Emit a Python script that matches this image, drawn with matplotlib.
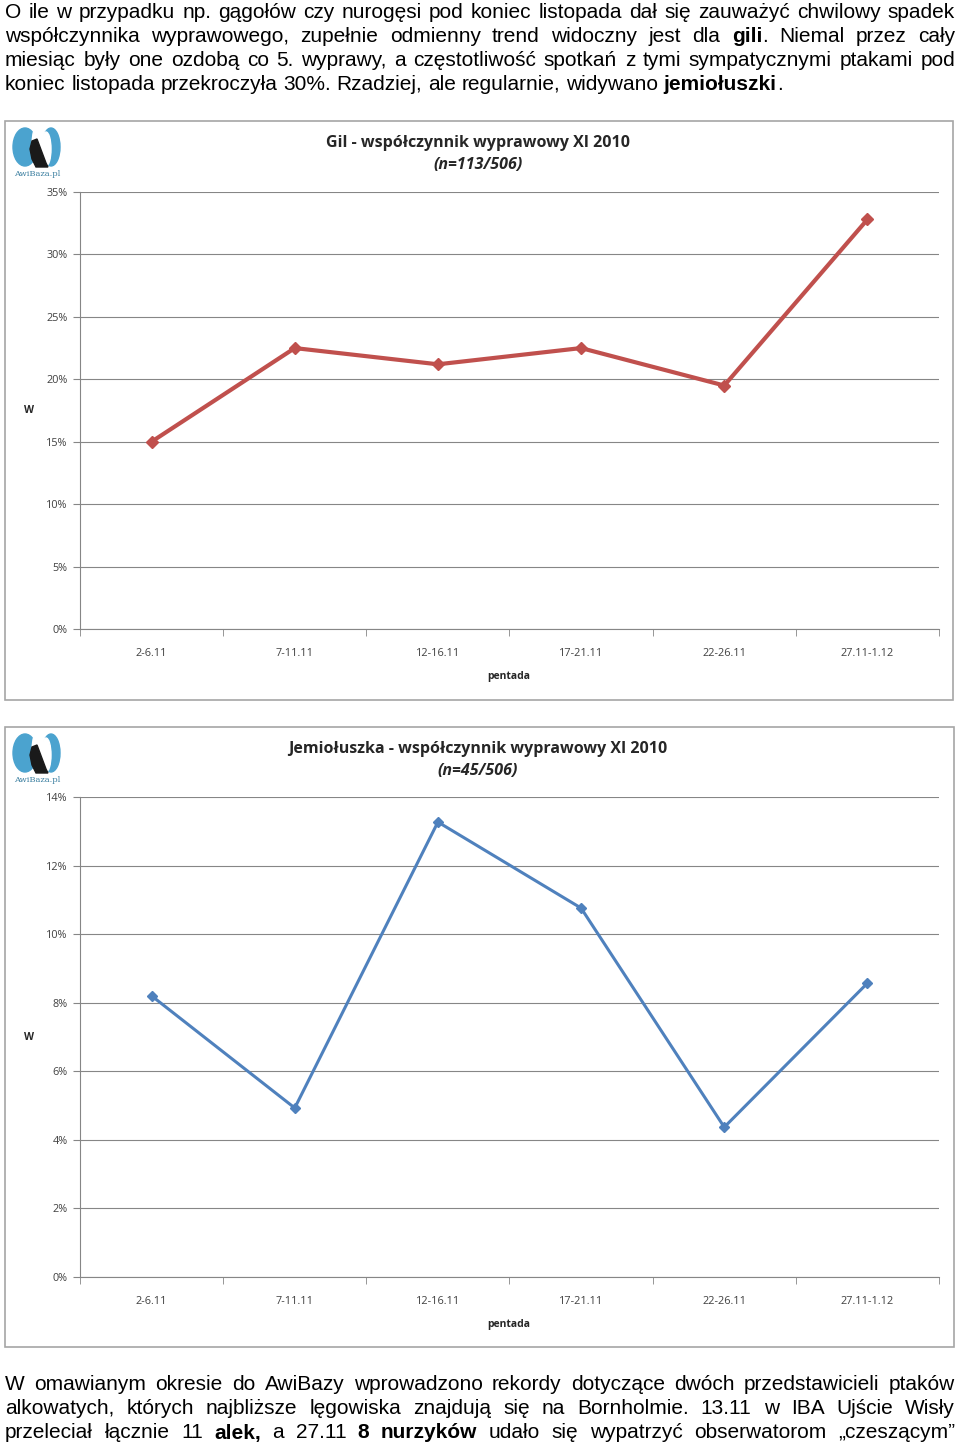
import matplotlib
matplotlib.use('Agg')
import matplotlib.pyplot as plt
from matplotlib.patches import Rectangle, Ellipse, Polygon

# dane
pentady = ['2-6.11', '7-11.11', '12-16.11', '17-21.11', '22-26.11', '27.11-1.12']
gil = [15.0, 22.5, 21.2, 22.5, 19.5, 32.8]
jemioluszka = [8.2, 4.93, 13.27, 10.76, 4.37, 8.57]

tekst_gora = [
    "O ile w przypadku np. gągołów czy nurogęsi pod koniec listopada dał się zauważyć chwilowy spadek",
    "współczynnika wyprawowego, zupełnie odmienny trend widoczny jest dla **gili**. Niemal przez cały",
    "miesiąc były one ozdobą co 5. wyprawy, a częstotliwość spotkań z tymi sympatycznymi ptakami pod",
    "koniec listopada przekroczyła 30%. Rzadziej, ale regularnie, widywano **jemiołuszki**.",
]
tekst_dol = [
    "W omawianym okresie do AwiBazy wprowadzono rekordy dotyczące dwóch przedstawicieli ptaków",
    "alkowatych, których najbliższe lęgowiska znajdują się na Bornholmie. 13.11 w IBA Ujście Wisły",
    "przeleciał łącznie 11 **alek,** a 27.11 **8 nurzyków** udało się wypatrzyć obserwatorom „czeszącym”",
]

W, H = 960, 1447
fig = plt.figure(figsize=(W / 100, H / 100), dpi=100)
renderer = fig.canvas.get_renderer()
BODY = ['Liberation Sans Narrow', 'Liberation Sans', 'DejaVu Sans']
FS = 15.0


def fx(x):
    return x / W


def fy(y):
    return 1 - y / H


def akapit(linie, y0, dy, justuj_ostatnia=False):
    bold = False
    for i, linia in enumerate(linie):
        slowa = []
        for w in linia.split(' '):
            segs = []
            for j, part in enumerate(w.split('**')):
                if j > 0:
                    bold = not bold
                if part:
                    segs.append((part, bold))
            slowa.append(segs)
        # pomiar szerokosci slow
        szer = []
        tmp = []
        for segs in slowa:
            ws = []
            for txt, b in segs:
                t = fig.text(0, 0, txt, fontsize=FS, family=BODY,
                             fontweight='bold' if b else 'normal')
                ws.append(t.get_window_extent(renderer).width)
                tmp.append(t)
            szer.append(ws)
        for t in tmp:
            t.remove()
        spacja = fig.text(0, 0, 'a a', fontsize=FS, family=BODY)
        sa = fig.text(0, 0, 'aa', fontsize=FS, family=BODY)
        sp = spacja.get_window_extent(renderer).width - sa.get_window_extent(renderer).width
        spacja.remove()
        sa.remove()
        total = sum(sum(ws) for ws in szer)
        ostatnia = (i == len(linie) - 1) and not justuj_ostatnia
        gap = sp if ostatnia else (950 - total) / (len(slowa) - 1)
        x = 5
        y = y0 + i * dy
        for segs, ws in zip(slowa, szer):
            for (txt, b), wd in zip(segs, ws):
                fig.text(fx(x), fy(y), txt, fontsize=FS, family=BODY,
                         fontweight='bold' if b else 'normal', va='center', ha='left')
                x += wd
            x += gap


akapit(tekst_gora, 12, 24)
akapit(tekst_dol, 1385, 24, justuj_ostatnia=True)


def logo(x0, y0):
    ax = fig.add_axes([fx(x0), fy(y0 + 54), fx(54), 54 / H])
    ax.set_xlim(0, 54)
    ax.set_ylim(54, 0)
    ax.axis('off')
    ax.add_patch(Ellipse((15, 22), 24, 38, color='#4ba3cf'))
    ax.add_patch(Ellipse((41, 22), 18, 38, color='#4ba3cf'))
    ax.add_patch(Ellipse((28, 20), 12, 40, color='white'))
    ax.add_patch(Ellipse((36, 24), 10, 34, color='white'))
    ax.add_patch(Polygon([[22, 16], [27, 14], [30, 22], [36, 38], [38, 42],
                          [26, 42], [22, 34], [20, 24]], color='#1a1a1a'))
    ax.text(27, 49, 'AwiBaza.pl', fontsize=6, family='DejaVu Serif', color='#3b7fa0',
            ha='center', va='center')


def wykres(dane, kolor, lw, ms, ymax, krok, ramka, os_y, tytul, n):
    fx0, fy0, fx1, fy1 = ramka
    fig.patches.append(Rectangle((fx(fx0), fy(fy1)), fx(fx1 - fx0), (fy1 - fy0) / H,
                                 transform=fig.transFigure, fill=False,
                                 edgecolor='#a6a6a6', linewidth=1.2))
    top, bottom = os_y
    ax = fig.add_axes([fx(80), fy(bottom), fx(939 - 80), (bottom - top) / H])
    x = list(range(len(pentady)))
    ax.plot(x, dane, color=kolor, linewidth=lw, marker='D', markersize=ms, zorder=3)
    ax.set_xlim(-0.5, len(pentady) - 0.5)
    ax.set_ylim(0, ymax)
    yt = list(range(0, ymax + 1, krok))
    ax.set_yticks(yt)
    ax.set_yticklabels([f'{v}%' for v in yt], fontsize=7.8, color='#404040', family='Open Sans')
    ax.set_xticks(x)
    ax.set_xticklabels(pentady, fontsize=7.8, color='#404040', family='Open Sans')
    ax.set_xticks([i - 0.5 for i in range(len(pentady) + 1)], minor=True)
    ax.tick_params(axis='x', which='major', length=0, pad=14)
    ax.tick_params(axis='x', which='minor', length=5, color='#868686', direction='out')
    ax.tick_params(axis='y', length=5, color='#868686', pad=4)
    ax.grid(axis='y', color='#868686', linewidth=0.8)
    for s in ['top', 'right']:
        ax.spines[s].set_visible(False)
    for s in ['left', 'bottom']:
        ax.spines[s].set_color('#868686')
    fig.text(fx(29), fy((top + bottom) / 2), 'W', fontsize=7.5, fontweight='bold',
             family='Open Sans', ha='center', va='center', color='#262626')
    fig.text(fx(509), fy(bottom + 47), 'pentada', fontsize=7.5, fontweight='bold',
             family='Open Sans', ha='center', va='center', color='#262626')
    fig.text(fx(478), fy(fy0 + 22), tytul, fontsize=11.5, fontweight='bold',
             family='Open Sans', ha='center', va='center', color='#262626')
    fig.text(fx(478), fy(fy0 + 44), n, fontsize=11.5, fontweight='bold', style='italic',
             family='Open Sans', ha='center', va='center', color='#262626')
    logo(fx0 + 5, fy0 + 4)


wykres(gil, '#c0504d', 3, 6, 35, 5, (5, 121, 953, 700), (192, 629),
       'Gil - współczynnik wyprawowy XI 2010', '(n=113/506)')
wykres(jemioluszka, '#4f81bd', 2.2, 5, 14, 2, (5, 727, 954, 1347), (797, 1277),
       'Jemiołuszka - współczynnik wyprawowy XI 2010', '(n=45/506)')

fig.savefig('out.png', dpi=100)
